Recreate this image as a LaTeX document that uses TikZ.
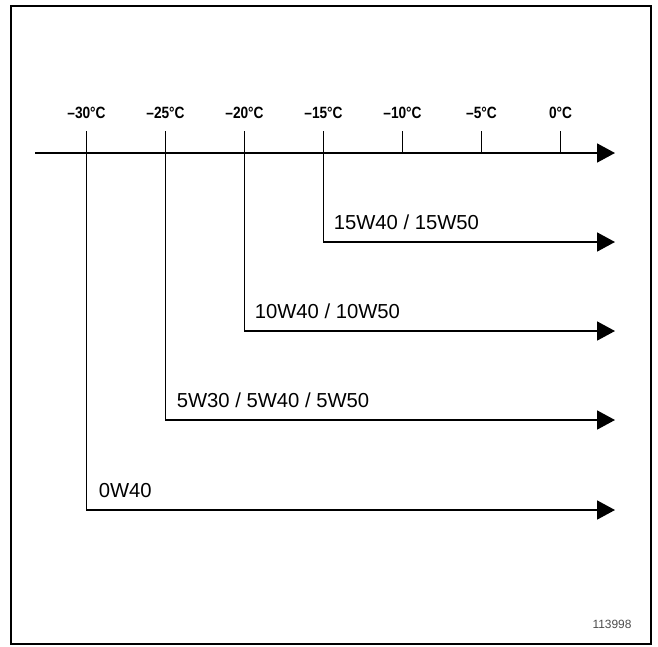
\documentclass[tikz,border=0pt]{standalone}
\usepackage{fontspec}
\setmainfont{Liberation Sans}
\newfontfamily\tickfont[FakeStretch=0.84]{Liberation Sans}
\usetikzlibrary{arrows.meta,positioning}
\tikzset{
  oilarrow/.style={line width=1.3pt, -{Triangle[length=12.8pt,width=13.5pt]}},
  tickline/.style={line width=1.3pt},
  templabel/.style={anchor=base, inner sep=0pt, font=\tickfont\bfseries\fontsize{11.6pt}{13pt}\selectfont},
  gradelabel/.style={anchor=base west, inner sep=0pt, font=\fontsize{14.4pt}{17pt}\selectfont}
}

\begin{document}
\begin{tikzpicture}[x=0.025cm, y=-0.025cm]
        \useasboundingbox (0, 0) rectangle (658, 646);
        \draw [line width=1.4pt] (11, 6) rectangle (651, 644);

        \coordinate (axisstart) at (35, 153);
        \coordinate (axisend) at (615, 153);
        \draw [oilarrow] (axisstart) -- (axisend);

        \foreach \i/\lab in {0/{–30°C}, 1/{–25°C}, 2/{–20°C}, 3/{–15°C}, 4/{–10°C}, 5/{–5°C}, 6/{0°C}} {
          \coordinate (t\i) at (86.5 + 79*\i, 153);
          \coordinate (tt\i) at (86.5 + 79*\i, 131);
          \draw [tickline] (t\i) -- (tt\i);
          \node [templabel] (temp\i) at (86.5 + 79*\i, 118.5) {\lab};
        }

        \coordinate (e15) at (615, 242);
        \coordinate (e10) at (615, 331);
        \coordinate (e5) at (615, 420);
        \coordinate (e0) at (615, 510);

        \draw [oilarrow] (t3) |- (e15);
        \draw [oilarrow] (t2) |- (e10);
        \draw [oilarrow] (t1) |- (e5);
        \draw [oilarrow] (t0) |- (e0);

        \node [gradelabel] (g15) at (333.5, 229.5) {15W40 / 15W50};
        \node [gradelabel] (g10) at (254.5, 318.5) {10W40 / 10W50};
        \node [gradelabel] (g5) at (176.5, 407.5) {5W30 / 5W40 / 5W50};
        \node [gradelabel] (g0) at (98.5, 497.5) {0W40};

        \node [anchor=base, inner sep=0pt, text=black!70, font=\fontsize{8.5pt}{10pt}\selectfont] (ref) at (612, 628) {113998};
      \end{tikzpicture}
\end{document}
